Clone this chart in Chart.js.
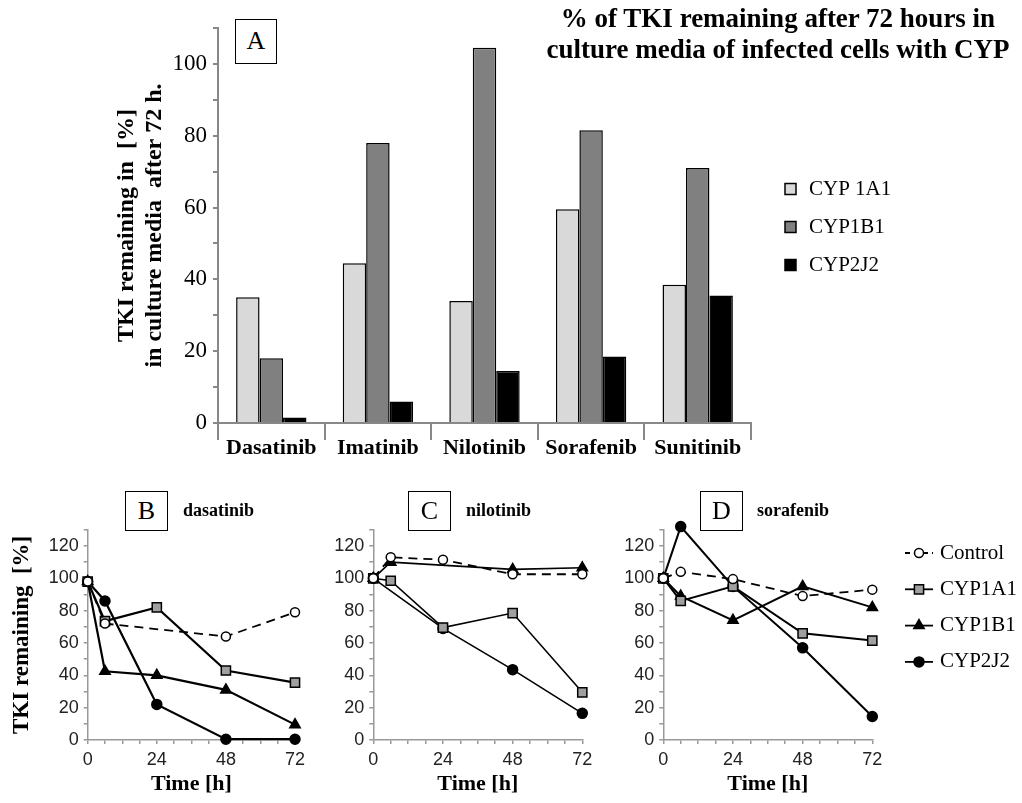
<!DOCTYPE html>
<html>
<head>
<meta charset="utf-8">
<script src="https://cdn.jsdelivr.net/npm/chart.js@4/dist/chart.umd.min.js"></script>
<style>
  body { margin: 0; background: #fff; width: 1022px; height: 803px; position: relative; overflow: hidden;
         font-family: "Liberation Serif", "Times New Roman", serif; color: #000; }
  canvas { position: absolute; }
  .box { position: absolute; border: 1.5px solid #000; box-sizing: border-box; text-align: center; font-size: 26px; background: #fff; }
  .drug { position: absolute; font-weight: bold; font-size: 18px; line-height: 20px; }
  #title { position: absolute; left: 528px; top: 3px; width: 500px; text-align: center; font-weight: bold;
           font-size: 27px; line-height: 31px; }
</style>
</head>
<body>
<canvas id="chartA" width="1022" height="470" style="left:0;top:0"></canvas>
<canvas id="chartB" width="330" height="323" style="left:0;top:480px"></canvas>
<canvas id="chartC" width="290" height="323" style="left:320px;top:480px"></canvas>
<canvas id="chartD" width="412" height="323" style="left:610px;top:480px"></canvas>

<div id="title">% of TKI remaining after 72 hours in<br>culture media of infected cells with CYP</div>
<div class="box" style="left:235px;top:19px;width:42px;height:45px;line-height:42px;">A</div>
<div class="box" style="left:125px;top:491px;width:43px;height:40px;line-height:37px;">B</div>
<div class="drug" style="left:183px;top:500px;">dasatinib</div>
<div class="box" style="left:408px;top:491px;width:43px;height:40px;line-height:37px;">C</div>
<div class="drug" style="left:466px;top:500px;">nilotinib</div>
<div class="box" style="left:700px;top:491px;width:43px;height:40px;line-height:37px;">D</div>
<div class="drug" style="left:757px;top:500px;">sorafenib</div>

<script>
const SERIF = '"Liberation Serif", "Times New Roman", serif';
const SANS = '"Liberation Sans", Arial, sans-serif';

// panel A - % remaining after 72 h
const drugs = ['Dasatinib', 'Imatinib', 'Nilotinib', 'Sorafenib', 'Sunitinib'];
const barNames = ['CYP 1A1', 'CYP1B1', 'CYP2J2'];
const remain1A1 = [35, 44.5, 34, 59.5, 38.5];
const remain1B1 = [18, 78, 104.5, 81.5, 71];
const remain2J2 = [1.5, 6, 14.5, 18.5, 35.5];

// panels B-D - time course
const hours = [0, 6, 24, 48, 72];
const lineNames = ['Control', 'CYP1A1', 'CYP1B1', 'CYP2J2'];

const dasaControl = [98, 72, null, 64, 79];
const dasa1A1 = [98, 73.5, 82, 43, 35.5];
const dasa1B1 = [98, 42.5, 40, 31, 9.5];
const dasa2J2 = [98, 86, 22, 0.5, 0.5];

const niloControl = [100, 113, 111.5, 102.5, 102.5];
const nilo1A1 = [100, 98.5, 69.5, 78.5, 29.5];
const nilo1B1 = [100, 110, null, 105.5, 106.5];
const nilo2J2 = [100, null, 69, 43.5, 16.5];

const soraControl = [100, 104, 99.5, 89, 93];
const sora1A1 = [100, 86, 95, 66, 61.5];
const sora1B1 = [100, 89, 74, 95, 82];
const sora2J2 = [100, 132, 95, 57, 14.5];

// legend drawn beside the plot
const sideLegend = {
    id: 'sideLegend',
    afterDraw(chart, args, opts) {
        const ctx = chart.ctx;
        ctx.save();
        chart.data.datasets.forEach((ds, i) => {
            const x = opts.left;
            const y = opts.top + i * opts.gap;
            if (opts.kind === 'box') {
                ctx.fillStyle = ds.backgroundColor;
                ctx.strokeStyle = '#000';
                ctx.lineWidth = 1.5;
                ctx.fillRect(x, y - 5.5, 11, 11);
                ctx.strokeRect(x, y - 5.5, 11, 11);
            } else {
                ctx.strokeStyle = ds.borderColor;
                ctx.lineWidth = 1.8;
                ctx.setLineDash(ds.borderDash ? [5, 4] : []);
                ctx.beginPath();
                ctx.moveTo(x, y);
                ctx.lineTo(x + opts.sample, y);
                ctx.stroke();
                ctx.setLineDash([]);
                ctx.fillStyle = ds.pointBackgroundColor;
                ctx.strokeStyle = ds.pointBorderColor;
                ctx.lineWidth = ds.pointBorderWidth;
                Chart.helpers.drawPoint(ctx, {
                    pointStyle: ds.pointStyle, radius: ds.pointRadius,
                    borderWidth: ds.pointBorderWidth, rotation: 0
                }, x + opts.sample / 2, y);
            }
            ctx.fillStyle = '#000';
            ctx.font = opts.font;
            ctx.textBaseline = 'middle';
            ctx.textAlign = 'left';
            ctx.fillText(ds.label, x + opts.textOffset, y);
        });
        ctx.restore();
    }
};

new Chart(document.getElementById('chartA'), {
    type: 'bar',
    data: {
        labels: drugs,
        datasets: [
            { label: barNames[0], data: remain1A1, backgroundColor: '#d9d9d9' },
            { label: barNames[1], data: remain1B1, backgroundColor: '#808080' },
            { label: barNames[2], data: remain2J2, backgroundColor: '#000000' }
        ]
    },
    options: {
        responsive: false,
        animation: false,
        layout: { padding: { left: 0, top: 28, right: 271, bottom: 0 } },
        datasets: {
            bar: { borderColor: '#000', borderWidth: 1.5, barPercentage: 1, categoryPercentage: 0.66 }
        },
        plugins: {
            legend: { display: false },
            tooltip: { enabled: false },
            sideLegend: { kind: 'box', left: 785, top: 189, gap: 38, textOffset: 24, font: '21px ' + SERIF }
        },
        scales: {
            x: {
                grid: { offset: true, drawOnChartArea: false, tickLength: 17, color: '#888', lineWidth: 2 },
                border: { color: '#888', width: 2 },
                ticks: { padding: -5, color: '#000', maxRotation: 0, font: { family: SERIF, size: 22, weight: 'bold' } },
                afterFit: s => { s.height = 47; }
            },
            y: {
                min: 0,
                max: 110,
                ticks: {
                    stepSize: 10, autoSkip: false, padding: 6, color: '#000',
                    font: { family: SERIF, size: 23 },
                    callback: v => v % 20 === 0 ? v : ''
                },
                grid: { drawOnChartArea: false, tickLength: 5, color: '#888', lineWidth: 2 },
                border: { color: '#888', width: 2 },
                title: {
                    display: true,
                    text: ['TKI remaining in  [%]', 'in culture media  after 72 h.'],
                    color: '#000',
                    font: { family: SERIF, size: 24, weight: 'bold', lineHeight: 1.2 },
                    padding: { top: 112, bottom: 0 }
                },
                afterFit: s => { s.width = 218; }
            }
        }
    },
    plugins: [sideLegend]
});

const lineStyles = [
    { borderDash: [9, 6], borderWidth: 1.8, pointStyle: 'circle', pointRadius: 4.5, pointBackgroundColor: '#fff' },
    { pointStyle: 'rect', pointRadius: 6.5, pointBackgroundColor: '#a0a0a0' },
    { pointStyle: 'triangle', pointRadius: 6, pointBackgroundColor: '#000' },
    { pointStyle: 'circle', pointRadius: 5, pointBackgroundColor: '#000' }
];

function makeSets(seriesList) {
    return seriesList.map((vals, i) => Object.assign({
        label: lineNames[i],
        data: hours.map((h, k) => ({ x: h, y: vals[k] })),
        borderColor: '#000',
        pointBorderColor: '#000',
        pointBorderWidth: 1.5,
        spanGaps: true,
        clip: false
    }, lineStyles[i]));
}

function timeChart(id, seriesList, opt) {
    return new Chart(document.getElementById(id), {
        type: 'line',
        data: { datasets: makeSets(seriesList) },
        options: {
            responsive: false,
            animation: false,
            layout: { padding: { left: 0, top: 49.8, right: opt.padRight, bottom: 0 } },
            elements: { line: { tension: 0, borderWidth: opt.lw } },
            plugins: {
                legend: { display: false },
                tooltip: { enabled: false },
                sideLegend: opt.legend || false
            },
            scales: {
                x: {
                    type: 'linear',
                    min: 0,
                    max: 72,
                    ticks: {
                        stepSize: 6, autoSkip: false, padding: 5, color: '#222',
                        maxRotation: 0, minRotation: 0,
                        font: { family: SANS, size: 18 },
                        callback: v => v % 24 === 0 ? v : ''
                    },
                    grid: { drawOnChartArea: false, tickLength: 4, color: '#999', lineWidth: 1.5 },
                    border: { color: '#999', width: 1.5 },
                    title: {
                        display: true, text: 'Time [h]', color: '#000',
                        font: { family: SERIF, size: 22, weight: 'bold' },
                        padding: { top: 0, bottom: 5 }
                    },
                    afterFit: s => { s.height = 63; }
                },
                y: {
                    min: 0,
                    max: 130,
                    ticks: {
                        stepSize: 10, autoSkip: false, padding: 5, color: '#222',
                        font: { family: SANS, size: 18 },
                        callback: v => v % 20 === 0 ? v : ''
                    },
                    grid: { drawOnChartArea: false, tickLength: 4, color: '#999', lineWidth: 1.5 },
                    border: { color: '#999', width: 1.5 },
                    title: {
                        display: !!opt.yTitle, text: opt.yTitle || '', color: '#000',
                        font: { family: SERIF, size: 23, weight: 'bold' },
                        padding: { top: 8, bottom: 0 }
                    },
                    afterFit: s => { s.width = opt.axisLeft; }
                }
            }
        },
        plugins: [sideLegend]
    });
}

timeChart('chartB', [dasaControl, dasa1A1, dasa1B1, dasa2J2],
    { axisLeft: 87.7, padRight: 35, lw: 2.2, yTitle: 'TKI remaining  [%]' });
timeChart('chartC', [niloControl, nilo1A1, nilo1B1, nilo2J2],
    { axisLeft: 53.3, padRight: 27.7, lw: 1.6 });
timeChart('chartD', [soraControl, sora1A1, sora1B1, sora2J2],
    { axisLeft: 53.3, padRight: 149.7, lw: 2,
      legend: { kind: 'line', left: 295, top: 73, gap: 36.3, sample: 28, textOffset: 35, font: '21px ' + SERIF } });
</script>
</body>
</html>
